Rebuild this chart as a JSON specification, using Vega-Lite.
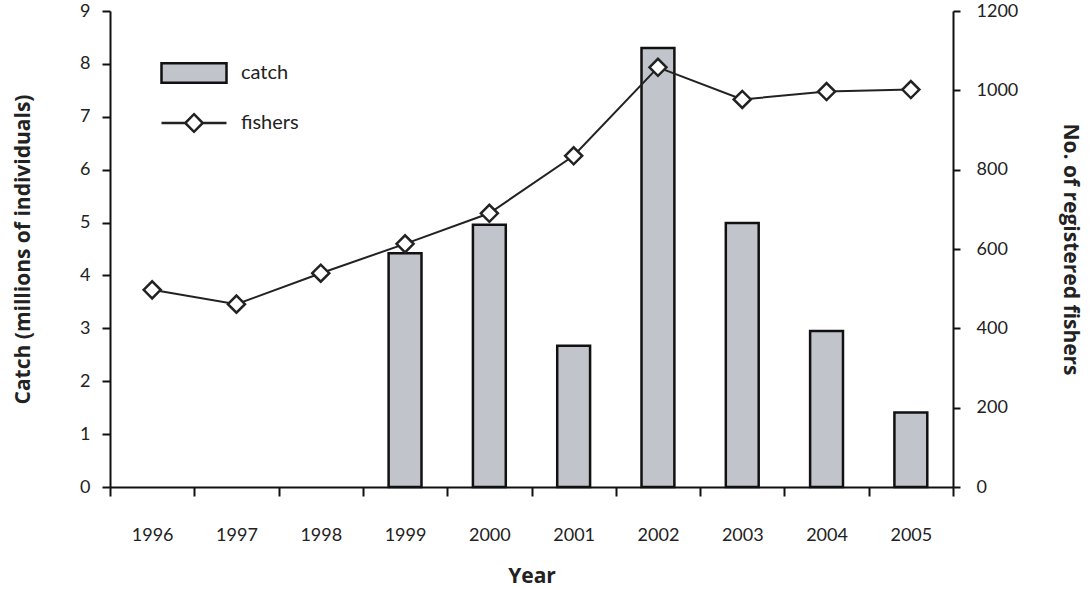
{
  "$schema": "https://vega.github.io/schema/vega-lite/v6.json",
  "width": 843,
  "height": 476,
  "autosize": {"type": "none"},
  "padding": {"left": 110, "top": 11, "right": 139, "bottom": 103},
  "background": "white",
  "config": {
    "font": "Lato",
    "view": {"stroke": null},
    "axis": {
      "labelFont": "Lato",
      "labelFontSize": 18,
      "labelColor": "#222",
      "titleFont": "Open Sans",
      "titleFontSize": 21,
      "titleFontWeight": "bold",
      "titleColor": "#222",
      "domainColor": "#111",
      "domainWidth": 2,
      "tickColor": "#111",
      "tickWidth": 2,
      "grid": false
    },
    "legend": {
      "labelFont": "Lato",
      "labelFontSize": 20,
      "labelColor": "#222",
      "padding": 0,
      "offset": 0
    }
  },
  "data": {
    "values": [
      {"year": "1996", "catch": null, "fishers": 497},
      {"year": "1997", "catch": null, "fishers": 461},
      {"year": "1998", "catch": null, "fishers": 539},
      {"year": "1999", "catch": 4.42, "fishers": 613},
      {"year": "2000", "catch": 4.96, "fishers": 690},
      {"year": "2001", "catch": 2.67, "fishers": 835},
      {"year": "2002", "catch": 8.3, "fishers": 1058},
      {"year": "2003", "catch": 4.99, "fishers": 977},
      {"year": "2004", "catch": 2.95, "fishers": 997},
      {"year": "2005", "catch": 1.41, "fishers": 1002}
    ]
  },
  "encoding": {
    "x": {
      "field": "year",
      "type": "ordinal",
      "scale": {"paddingInner": 0, "paddingOuter": 0},
      "axis": {
        "title": "Year",
        "labelAngle": 0,
        "tickBand": "extent",
        "tickSize": 9,
        "labelPadding": 30,
        "titlePadding": 21
      }
    }
  },
  "layer": [
    {
      "mark": {"type": "bar", "width": {"band": 0.39}, "stroke": "#111", "strokeWidth": 2.5},
      "encoding": {
        "y": {
          "field": "catch",
          "type": "quantitative",
          "scale": {"domain": [0, 9], "nice": false},
          "axis": {
            "title": "Catch (millions of individuals)",
            "values": [0, 1, 2, 3, 4, 5, 6, 7, 8, 9],
            "tickSize": 8,
            "labelPadding": 12,
            "titlePadding": 46
          }
        },
        "fill": {
          "datum": "catch",
          "scale": {"range": ["#c1c4cb"]},
          "legend": {
            "title": null,
            "orient": "none",
            "legendX": 50,
            "legendY": 28,
            "symbolType": "M-1,-0.3L1,-0.3L1,0.3L-1,0.3Z",
            "symbolSize": 4225,
            "symbolStrokeColor": "#111",
            "symbolStrokeWidth": 2.5,
            "labelOffset": 13,
            "encode": {"symbols": {"update": {"stroke": {"value": "#111"}, "strokeWidth": {"value": 2.5}}}}
          }
        }
      }
    },
    {
      "mark": {
        "type": "line",
        "strokeWidth": 2,
        "point": {"shape": "diamond", "filled": true, "fill": "white", "stroke": "#111", "strokeWidth": 2.5, "size": 290}
      },
      "encoding": {
        "y": {
          "field": "fishers",
          "type": "quantitative",
          "scale": {"domain": [0, 1200], "nice": false},
          "axis": {
            "orient": "right",
            "title": "No. of registered fishers",
            "format": "d",
            "values": [0, 200, 400, 600, 800, 1000, 1200],
            "tickSize": 7,
            "labelPadding": 16,
            "titlePadding": 42
          }
        },
        "stroke": {
          "datum": "fishers",
          "scale": {"range": ["#222"]},
          "legend": {
            "title": null,
            "orient": "none",
            "legendX": 50,
            "legendY": 78,
            "symbolType": "M-1,0L-0.27,0M0.27,0L1,0M0,-0.27L0.27,0L0,0.27L-0.27,0Z",
            "symbolSize": 4225,
            "symbolStrokeWidth": 2.5,
            "symbolFillColor": "white",
            "labelOffset": 13,
            "encode": {"symbols": {"update": {"fill": {"value": "white"}, "strokeWidth": {"value": 2.5}}}}
          }
        }
      }
    }
  ],
  "resolve": {"scale": {"y": "independent"}}
}
